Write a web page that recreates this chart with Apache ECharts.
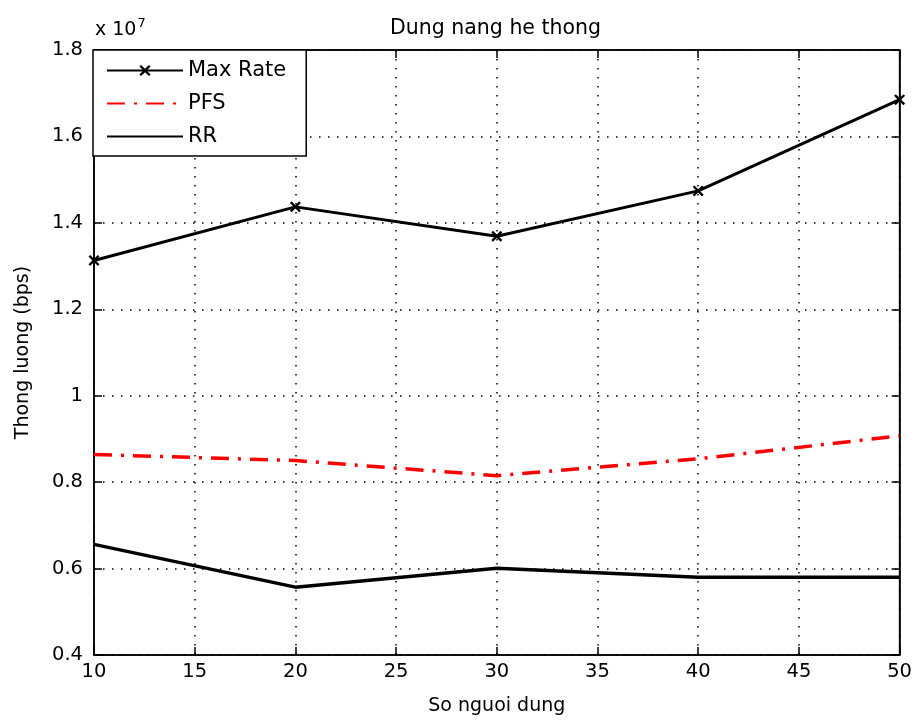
<!DOCTYPE html>
<html>
<head>
<meta charset="utf-8">
<script src="https://cdn.jsdelivr.net/npm/echarts@6/dist/echarts.min.js"></script>
<style>
  html, body { margin: 0; padding: 0; background: #fff; }
  #chart { width: 915px; height: 721px; }
</style>
</head>
<body>
<div id="chart"></div>
<script>
// values in units of 1e7 bps
const users = [10, 20, 30, 40, 50];
const maxRate = [1.313, 1.437, 1.369, 1.474, 1.685];
const pfs = [0.864, 0.850, 0.815, 0.854, 0.907];
const rr = [0.656, 0.557, 0.601, 0.580, 0.580];

const FONT = 'DejaVu Sans';
const crossPath = 'path://M0,1.5 L1.5,0 L5,3.5 L8.5,0 L10,1.5 L6.5,5 L10,8.5 L8.5,10 L5,6.5 L1.5,10 L0,8.5 L3.5,5 Z';
const hiddenMark = { color: 'rgba(0,0,0,0)', borderWidth: 0, opacity: 0 };

function pairs(vals) {
  return users.map((u, i) => [u, vals[i]]);
}

let chart = echarts.init(document.getElementById('chart'));
chart.setOption({
  animation: false,
  backgroundColor: '#fff',
  textStyle: { fontFamily: FONT },
  title: {
    text: 'Dung nang he thong',
    left: 385,
    top: 13,
    textStyle: { fontSize: 20.5, fontWeight: 'normal', color: '#000', fontFamily: FONT }
  },
  grid: {
    left: 94, right: 13, top: 50, bottom: 64,
    show: true, borderColor: '#000', borderWidth: 1.5
  },
  legend: {
    orient: 'vertical',
    left: 93, top: 50,
    padding: [8, 20, 7, 13],
    itemWidth: 76,
    itemHeight: 14,
    itemGap: 8,
    backgroundColor: '#fff',
    borderColor: '#000',
    borderWidth: 1.5,
    textStyle: { fontSize: 21, lineHeight: 25, color: '#000', fontFamily: FONT },
    data: [
      { name: 'Max Rate' },
      { name: 'PFS', itemStyle: hiddenMark },
      { name: 'RR', itemStyle: hiddenMark }
    ]
  },
  graphic: [{
    type: 'text',
    left: 95, top: 17,
    style: {
      text: '{a|x 10}{b|7}',
      rich: {
        a: { fontSize: 19, fontFamily: FONT, fill: '#000', verticalAlign: 'bottom' },
        b: { fontSize: 13, fontFamily: FONT, fill: '#000', verticalAlign: 'top', padding: [0, 0, 10, 1] }
      }
    }
  }],
  xAxis: [{
    type: 'value',
    min: 10, max: 50, interval: 5,
    name: 'So nguoi dung',
    nameLocation: 'middle',
    nameGap: 42,
    nameTextStyle: { fontSize: 19, color: '#000', fontFamily: FONT },
    axisLine: { lineStyle: { color: '#000', width: 1.5 } },
    axisTick: { inside: true, length: 8, lineStyle: { color: '#000', width: 1.5 } },
    axisLabel: { fontSize: 19.5, color: '#000', margin: 7, fontFamily: FONT },
    splitLine: { show: true, lineStyle: { color: '#000', type: [1.5, 7.5], width: 1.5 } }
  }, {
    type: 'value', position: 'top',
    min: 10, max: 50, interval: 5,
    axisLine: { show: true, lineStyle: { color: '#000', width: 1.5 } },
    axisTick: { show: true, inside: true, length: 8, lineStyle: { color: '#000', width: 1.5 } },
    axisLabel: { show: false },
    splitLine: { show: false }
  }],
  yAxis: [{
    type: 'value',
    min: 0.4, max: 1.8, interval: 0.2,
    name: 'Thong luong (bps)',
    nameLocation: 'middle',
    nameGap: 61,
    nameTextStyle: { fontSize: 19, color: '#000', fontFamily: FONT },
    axisLine: { show: true, lineStyle: { color: '#000', width: 1.5 } },
    axisTick: { show: true, inside: true, length: 8, lineStyle: { color: '#000', width: 1.5 } },
    axisLabel: { fontSize: 19.5, color: '#000', margin: 11, fontFamily: FONT },
    splitLine: { show: true, lineStyle: { color: '#000', type: [1.5, 7.5], width: 1.5 } }
  }, {
    type: 'value', position: 'right',
    min: 0.4, max: 1.8, interval: 0.2,
    axisLine: { show: true, lineStyle: { color: '#000', width: 1.5 } },
    axisTick: { show: true, inside: true, length: 8, lineStyle: { color: '#000', width: 1.5 } },
    axisLabel: { show: false },
    splitLine: { show: false }
  }],
  series: [{
    name: 'Max Rate',
    type: 'line',
    data: pairs(maxRate),
    symbol: crossPath,
    symbolSize: 11,
    showAllSymbol: true,
    color: '#000',
    lineStyle: { color: '#000', width: 3 },
    itemStyle: { color: '#000' }
  }, {
    name: 'PFS',
    type: 'line',
    data: pairs(pfs),
    symbol: 'none',
    color: '#ff0000',
    lineStyle: { color: '#ff0000', width: 3.5, type: [18, 9, 3, 9] }
  }, {
    name: 'RR',
    type: 'line',
    data: pairs(rr),
    symbol: 'none',
    color: '#000',
    lineStyle: { color: '#000', width: 3.5 }
  }]
});

window.onresize = () => {
  chart.resize();
};
</script>
</body>
</html>
